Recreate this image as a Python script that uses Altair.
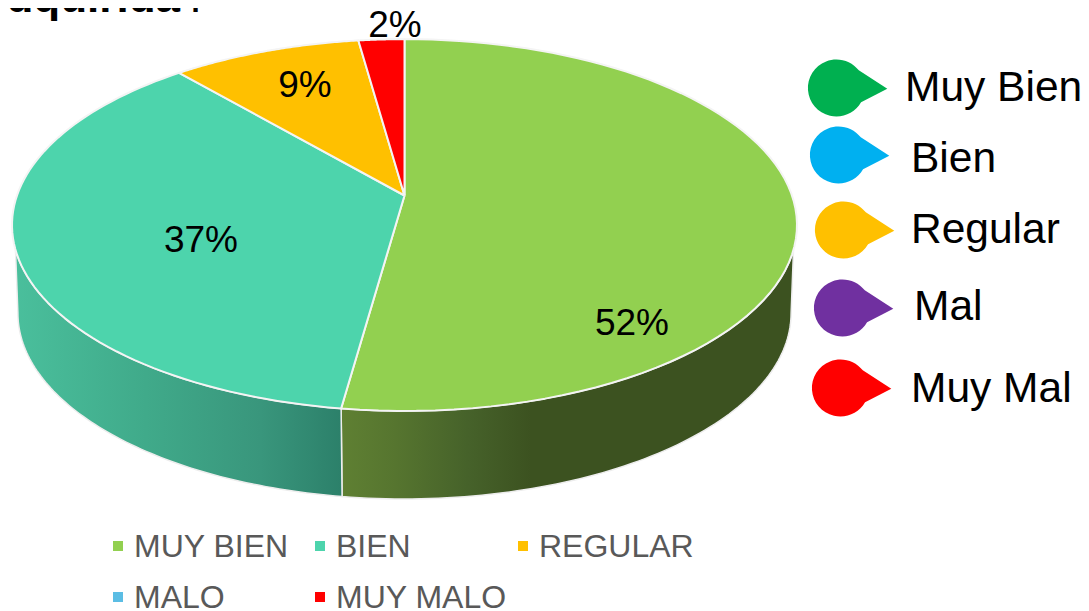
import math
import altair as alt
import pandas as pd

# ---- data -------------------------------------------------------------
pie_names = ["MUY BIEN", "BIEN", "REGULAR", "MALO", "MUY MALO"]
pie_values = [52.2, 36.5, 9.1, 0.0, 2.2]
pie_colors = ["#92D050", "#4DD4AC", "#FFC000", "#5BBDE4", "#FF0000"]
pie_labels = ["52%", "37%", "9%", "", "2%"]

side_names = ["Muy Bien", "Bien", "Regular", "Mal", "Muy Mal"]
side_colors = ["#00B050", "#00B0F0", "#FFC000", "#7030A0", "#FF0000"]

title_tail = "adquirida"
title_mark = "?"

# ---- layout (pixels of the 1089x611 picture) ---------------------------
W, H = 1081, 611
X0, Y0 = 404.5, 195.5
A, B, K = 387.5, 181.2, 0.159
DEPTH = 88.0
SHRINK = 0.985

x_s = alt.Scale(domain=[8, W], range=[0, W - 8], nice=False, zero=False)
y_s = alt.Scale(domain=[8, H], range=[0, H - 8], nice=False, zero=False)
X = lambda f="x": alt.X(f"{f}:Q", scale=x_s, axis=None)
Y = lambda f="y": alt.Y(f"{f}:Q", scale=y_s, axis=None)


def top(theta):
    t = math.radians(theta)
    u, w = math.sin(t), -math.cos(t)
    d = 1 - K * w
    return X0 + A * u / d, Y0 + B * w / d


def bottom(theta):
    x, y = top(theta)
    return X0 + (x - X0) * SHRINK, y + DEPTH


def sweep(a, b, fn, n=80):
    return [fn(a + (b - a) * i / n) for i in range(n + 1)]


# wedges of the lid, from the values
rows = []
cum = 0.0
bounds = []
for name, val in zip(pie_names, pie_values):
    a, b = cum * 3.6, (cum + val) * 3.6
    bounds.append((a, b))
    cum += val
    if val <= 0:
        continue
    pts = [(X0, Y0)] + sweep(a, b, top) + [(X0, Y0)]
    rows += [{"name": name, "i": i, "x": p[0], "y": p[1]} for i, p in enumerate(pts)]
lid = pd.DataFrame(rows)

lid_layer = (
    alt.Chart(lid)
    .mark_line(filled=True, stroke="#F4F4F4", strokeWidth=2, strokeJoin="round")
    .encode(
        x=X(),
        y=Y(),
        order="i:Q",
        detail="name:N",
        color=alt.Color("name:N", scale=alt.Scale(domain=pie_names, range=pie_colors), legend=None),
    )
)


def wall(start, end_top, end_bottom, stops):
    pts = sweep(start, end_top, top) + sweep(end_bottom, start, bottom)
    pts.append(pts[0])
    df = pd.DataFrame([{"i": i, "x": p[0], "y": p[1]} for i, p in enumerate(pts)])
    grad = alt.Gradient(
        gradient="linear",
        x1=0, x2=1, y1=0, y2=0,
        stops=[alt.GradientStop(offset=o, color=c) for o, c in stops],
    )
    return (
        alt.Chart(df)
        .mark_line(filled=True, fill=grad, stroke="#EDEDED", strokeWidth=1.5)
        .encode(x=X(), y=Y(), order="i:Q")
    )


seam = bounds[0][1]
wall_green = wall(
    seam, 106.6, 99.2,
    [(0.0, "#5F8033"), (0.12, "#56752F"), (0.28, "#46622A"), (0.42, "#3C5220"), (1.0, "#3C5220")],
)
wall_teal = wall(
    seam, 253.4, 260.8,
    [(0.0, "#4ABF9C"), (0.4, "#40AA8A"), (0.75, "#39967C"), (1.0, "#2C806A")],
)


# percentage labels on the pie
lab_x = [632, 201, 305, 0, 395]
lab_y = [335, 252, 97, 0, 37]
lab_df = pd.DataFrame({"t": pie_labels, "x": lab_x, "y": lab_y})
lab_df = lab_df[lab_df.t != ""]
labels = (
    alt.Chart(lab_df)
    .mark_text(font="Liberation Sans", fontSize=37, color="#000000", align="center", baseline="alphabetic")
    .encode(x=X(), y=Y(), text="t:N")
)

# side key with teardrops
drop_x = [836, 838, 843, 842, 840]
drop_y = [88, 155, 230, 308, 388]
txt_x = [905, 911, 911, 914, 911]
txt_y = [101, 172, 243, 320, 402]
DROP = "M 1.8 0.03 L 0.8 -0.62 A 1 1 0 1 0 0.88 0.5 Z"
side_df = pd.DataFrame({"n": side_names, "c": side_colors, "x": drop_x, "y": drop_y, "tx": txt_x, "ty": txt_y})
drops = (
    alt.Chart(side_df)
    .mark_point(shape=DROP, filled=True, size=3249, opacity=1, strokeWidth=0)
    .encode(x=X(), y=Y(), color=alt.Color("c:N", scale=None))
)
side_text = (
    alt.Chart(side_df)
    .mark_text(font="Liberation Sans", fontSize=42.5, color="#000000", align="left", baseline="alphabetic")
    .encode(x=X("tx"), y=Y("ty"), text="n:N")
)

# bottom key
key_x = [113, 315, 518, 113, 315]
key_y = [546, 546, 546, 597, 597]
key_df = pd.DataFrame({"n": pie_names, "c": pie_colors, "x": [v + 5 for v in key_x], "y": key_y,
                       "tx": [v + 21 for v in key_x], "ty": [v + 11 for v in key_y]})
key_marks = (
    alt.Chart(key_df)
    .mark_square(size=100, opacity=1)
    .encode(x=X(), y=Y(), color=alt.Color("c:N", scale=None))
)
key_text = (
    alt.Chart(key_df)
    .mark_text(font="Liberation Sans", fontSize=32, color="#595959", align="left", baseline="alphabetic")
    .encode(x=X("tx"), y=Y("ty"), text="n:N")
)

# clipped title at the top left
title_df = pd.DataFrame({"t": [title_tail, title_mark], "x": [180, 187], "y": [12, 12], "a": ["r", "l"]})
title_a = (
    alt.Chart(title_df[title_df.a == "r"])
    .mark_text(font="Liberation Sans", fontSize=44, fontWeight="bold", color="#000000", align="right", baseline="alphabetic")
    .encode(x=X(), y=Y(), text="t:N")
)
title_b = (
    alt.Chart(title_df[title_df.a == "l"])
    .mark_text(font="Liberation Sans", fontSize=30, fontWeight="bold", color="#000000", align="left", baseline="alphabetic")
    .encode(x=X(), y=Y(), text="t:N")
)

chart = (
    alt.layer(wall_green, wall_teal, lid_layer, labels, drops, side_text, key_marks, key_text, title_a, title_b)
    .resolve_scale(color="independent")
    .properties(width=W - 8, height=H - 8, padding=0, background="#FFFFFF",
                autosize=alt.AutoSizeParams(type="none", contains="padding"))
    .configure_view(stroke=None)
)
chart.save("out.html", embed_options={"renderer": "svg", "actions": False})
